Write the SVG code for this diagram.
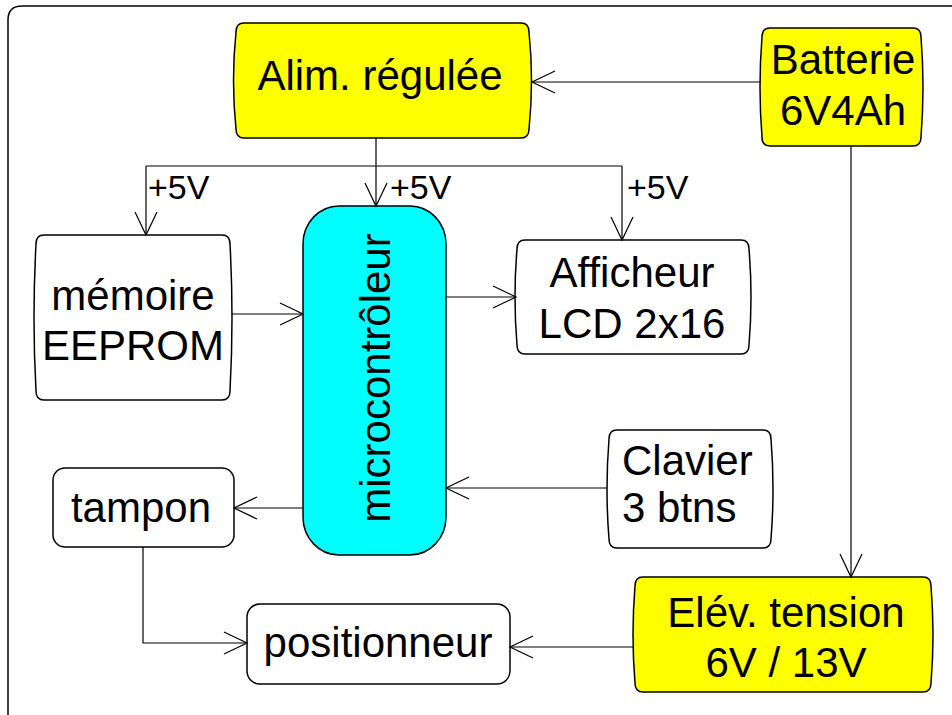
<svg xmlns="http://www.w3.org/2000/svg" width="952" height="715" viewBox="0 0 952 715">
<defs>
<marker id="arr" markerUnits="userSpaceOnUse" markerWidth="30" markerHeight="30" viewBox="-25 -15 30 30" refX="0" refY="0" orient="auto" overflow="visible">
<path d="M-23,-11 L0,0 L-23,11" fill="none" stroke="#000" stroke-width="1.2"/>
</marker>
<style>
.t{font-family:"Liberation Sans",Arial,sans-serif;font-size:42px;fill:#000}
.s{font-family:"Liberation Sans",Arial,sans-serif;font-size:34px;fill:#000}
.b{stroke:#000;stroke-width:1.5}
.w{fill:#fff}
.y{fill:#ffff00}
.c{fill:#00ffff}
.l{fill:none;stroke:#000;stroke-width:1.2}
</style>
</defs>
<rect width="952" height="715" fill="#fff"/>
<path d="M8,720 V20 Q8,6 22,6 H960" fill="none" stroke="#000" stroke-width="1.5"/>

<g id="alim">
<path class="b y" d="M244,23 H521 Q529,23 529,32 Q534,80 529,129 Q529,138 521,138 H244 Q236,138 236,129 Q231,80 236,32 Q236,23 244,23 Z"/>
<text class="t" x="380" y="90" text-anchor="middle">Alim. régulée</text>
</g>

<g id="batterie">
<path class="b y" d="M770,28 H913 Q921,28 921,37 Q925,87 921,137 Q921,146 913,146 H770 Q762,146 762,137 Q758,87 762,37 Q762,28 770,28 Z"/>
<text class="t" x="843" y="74" text-anchor="middle">Batterie</text>
<text class="t" x="843" y="125" text-anchor="middle">6V4Ah</text>
</g>

<g id="memoire">
<path class="b w" d="M44,235 H222 Q230,235 230,244 Q234,318 230,391 Q230,400 222,400 H44 Q36,400 36,391 Q32,318 36,244 Q36,235 44,235 Z"/>
<text class="t" x="133" y="310" text-anchor="middle">mémoire</text>
<text class="t" x="133" y="360" text-anchor="middle">EEPROM</text>
</g>

<g id="micro">
<rect class="b c" x="303" y="206" width="143" height="349" rx="36" ry="38"/>
<text class="t" transform="translate(390,378) rotate(-90)" text-anchor="middle">microcontrôleur</text>
</g>

<g id="afficheur">
<path class="b w" d="M525,240 H741 Q749,240 749,249 Q753,297 749,345 Q749,354 741,354 H525 Q517,354 517,345 Q513,297 517,249 Q517,240 525,240 Z"/>
<text class="t" x="632" y="287" text-anchor="middle">Afficheur</text>
<text class="t" x="632" y="338" text-anchor="middle">LCD 2x16</text>
</g>

<g id="clavier">
<path class="b w" d="M617,430 H763 Q771,430 771,439 Q775,489 771,539 Q771,548 763,548 H617 Q609,548 609,539 Q605,489 609,439 Q609,430 617,430 Z"/>
<text class="t" x="622" y="475">Clavier</text>
<text class="t" x="622" y="522">3 btns</text>
</g>

<g id="tampon">
<rect class="b w" x="53" y="468" width="181" height="79" rx="12"/>
<text class="t" x="141" y="522" text-anchor="middle">tampon</text>
</g>

<g id="positionneur">
<rect class="b w" x="247" y="604" width="263" height="80" rx="13"/>
<text class="t" x="378" y="657" text-anchor="middle">positionneur</text>
</g>

<g id="elevation">
<path class="b y" d="M643,577 H923 Q931,577 931,586 Q935,635 931,683 Q931,692 923,692 H643 Q635,692 635,683 Q631,635 635,586 Q635,577 643,577 Z"/>
<text class="t" x="786" y="627" text-anchor="middle">Elév. tension</text>
<text class="t" x="786" y="677" text-anchor="middle">6V / 13V</text>
</g>

<g id="connectors">
<path class="l" d="M760,82 H532" marker-end="url(#arr)"/>
<path class="l" d="M851,146 V577" marker-end="url(#arr)"/>
<path class="l" d="M376,138 V206" marker-end="url(#arr)"/>
<path class="l" d="M146,166 H622"/>
<path class="l" d="M146,166 V235" marker-end="url(#arr)"/>
<path class="l" d="M622,166 V240" marker-end="url(#arr)"/>
<path class="l" d="M232,314 H303" marker-end="url(#arr)"/>
<path class="l" d="M446,297 H516" marker-end="url(#arr)"/>
<path class="l" d="M607,488 H446" marker-end="url(#arr)"/>
<path class="l" d="M303,508 H234" marker-end="url(#arr)"/>
<path class="l" d="M143,547 V643 H247" marker-end="url(#arr)"/>
<path class="l" d="M633,647 H510" marker-end="url(#arr)"/>
<text class="s" x="148" y="199">+5V</text>
<text class="s" x="390" y="199">+5V</text>
<text class="s" x="627" y="199">+5V</text>
</g>
</svg>
